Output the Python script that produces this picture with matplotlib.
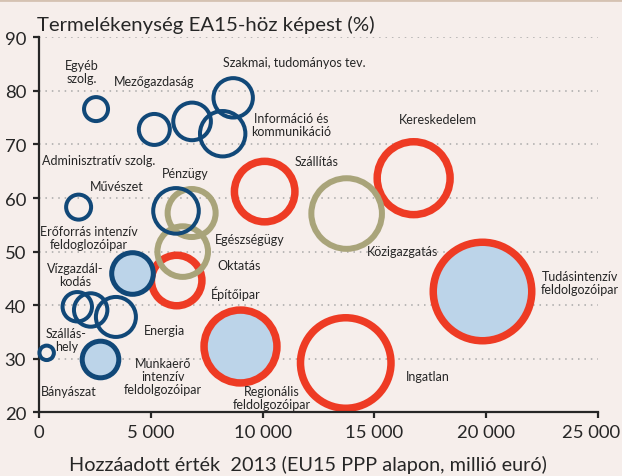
import matplotlib
matplotlib.use("Agg")
import matplotlib.pyplot as plt
import matplotlib.transforms as mtransforms
import numpy as np

# ---------------- data ----------------
agazat = [
    "Egyéb szolg.", "Adminisztratív szolg.", "Mezőgazdaság", "Szakmai, tudományos tev.",
    "Információ és kommunikáció", "Művészet", "Pénzügy", "Egészségügy", "Oktatás",
    "Építőipar", "Erőforrás intenzív feldolgozóipar", "Vízgazdálkodás", "Szálláshely",
    "Energia", "Munkaerő intenzív feldolgozóipar", "Bányászat", "Regionális feldolgozóipar",
    "Szállítás", "Közigazgatás", "Kereskedelem", "Tudásintenzív feldolgozóipar", "Ingatlan",
]
hozzaadott_ertek = [2540, 5150, 6840, 8680, 8210, 1760, 6120, 6820, 6420, 6150, 4140,
                    1700, 2300, 3430, 2720, 330, 8980, 10090, 13760, 16760, 19800, 13720]
termelekenyseg = [76.6, 72.8, 74.3, 78.7, 72.0, 58.3, 57.6, 57.2, 50.0, 44.6, 46.0,
                  39.7, 39.1, 37.8, 30.0, 31.1, 32.3, 61.2, 57.1, 63.7, 42.7, 29.2]
buborek_meret = [196, 306, 433, 471, 610, 210, 615, 729, 801, 841, 543,
                 279, 350, 484, 433, 85, 1616, 1156, 1467, 1616, 2809, 2401]
csoport = ["kek", "kek", "kek", "kek", "kek", "kek", "kek", "barna", "barna",
           "piros", "kek_telt", "kek", "kek", "kek", "kek_telt", "kek", "piros_telt",
           "piros", "barna", "piros", "piros_telt", "piros"]

x_ticks = [0, 5000, 10000, 15000, 20000, 25000]
x_ticklabels = ["0", "5 000", "10 000", "15 000", "20 000", "25 000"]
y_ticks = [20, 30, 40, 50, 60, 70, 80, 90]

cimkek = [
    ("Egyéb\nszolg.", 1898, 83.6),
    ("Mezőgazdaság", 5148, 81.9),
    ("Szakmai, tudományos tev.", 11401, 85.3),
    ("Információ és\nkommunikáció", 11267, 73.7),
    ("Kereskedelem", 17825, 74.8),
    ("Adminisztratív szolg.", 2659, 67.1),
    ("Szállítás", 12431, 67.0),
    ("Pénzügy", 6522, 64.7),
    ("Művészet", 3465, 62.2),
    ("Erőforrás intenzív\nfeldoglozóipar", 2202, 52.6),
    ("Egészségügy", 9432, 52.4),
    ("Oktatás", 8953, 47.5),
    ("Építőipar", 8805, 42.3),
    ("Vízgazdál-\nkodás", 1598, 45.8),
    ("Energia", 5627, 35.4),
    ("Szállás-\nhely", 1209, 33.5),
    ("Munkaerő\nintenzív\nfeldolgozóipar", 5524, 26.7),
    ("Bányászat", 1298, 24.0),
    ("Regionális\nfeldolgozóipar", 10403, 22.7),
    ("Közigazgatás", 16258, 50.2),
    ("Tudásintenzív\nfeldolgozóipar", 24203, 44.3),
    ("Ingatlan", 17413, 26.7),
]

# ---------------- style ----------------
BG = "#F6EEEB"
BLUE = "#114878"
LBLUE = "#BCD4E9"
RED = "#EE3B24"
TAN = "#A9A47A"
TXT = "#262626"
stilus = {
    "kek": (BLUE, "none", 4.0, 3),
    "kek_telt": (BLUE, LBLUE, 5.0, 3),
    "barna": (TAN, "none", 6.0, 2),
    "piros": (RED, "none", 7.5, 1),
    "piros_telt": (RED, LBLUE, 7.5, 1),
}

plt.rcParams['font.family'] = ['Lato', 'DejaVu Sans']

fig = plt.figure(figsize=(6.22, 4.77), dpi=100, facecolor=BG)
ax = fig.add_axes([39.3 / 622, 1 - 413.3 / 477, (597.7 - 39.3) / 622, (413.3 - 38.3) / 477])
ax.set_facecolor(BG)
ax.set_xlim(0, 25000)
ax.set_ylim(20, 90)

# top border line
fig.add_artist(plt.Line2D([0, 1], [1 - 1.2 / 477, 1 - 1.2 / 477], transform=fig.transFigure,
                          color="#D5C2B2", lw=2.0))

for yv in y_ticks[1:]:
    ax.axhline(yv, color="#A8A8A8", lw=1.1, ls=(0, (1, 3.2)), zorder=0.5)

px2pt = 72 / 100
for i in range(len(agazat)):
    ec, fc, lw_px, z = stilus[csoport[i]]
    r_out = np.sqrt(buborek_meret[i])
    d_path = (2 * r_out - lw_px) * px2pt
    ax.scatter([hozzaadott_ertek[i]], [termelekenyseg[i]], s=d_path ** 2, facecolors=fc,
               edgecolors=ec, linewidths=lw_px * px2pt, zorder=z + 1, clip_on=False)

for txt, xx, yy in cimkek:
    ax.text(xx, yy, txt, ha="center", va="center", fontsize=9.0, color=TXT,
            linespacing=1.1, zorder=10)

for sp in ["top", "right"]:
    ax.spines[sp].set_visible(False)
for sp in ["left", "bottom"]:
    ax.spines[sp].set_linewidth(1.6)
    ax.spines[sp].set_color(TXT)

ax.set_xticks(x_ticks)
ax.set_xticklabels(x_ticklabels)
ax.set_yticks(y_ticks)
ax.tick_params(axis="both", direction="out", length=4.5, width=1.6, color=TXT,
               labelsize=13.3, labelcolor=TXT)
ax.tick_params(axis="y", pad=5)
ax.tick_params(axis="x", pad=4)
last = ax.get_xticklabels()[-1]
last.set_transform(last.get_transform() + mtransforms.ScaledTranslation(-7 / 100, 0, fig.dpi_scale_trans))

fig.text(37 / 622, 1 - 25 / 477, "Termelékenység EA15-höz képest (%)", ha="left", va="center",
         fontsize=14.7, color=TXT)
fig.text(308 / 622, 1 - 465 / 477, "Hozzáadott érték  2013 (EU15 PPP alapon, millió euró)",
         ha="center", va="center", fontsize=14.3, color=TXT)

fig.savefig("out.png", dpi=100, facecolor=BG)
